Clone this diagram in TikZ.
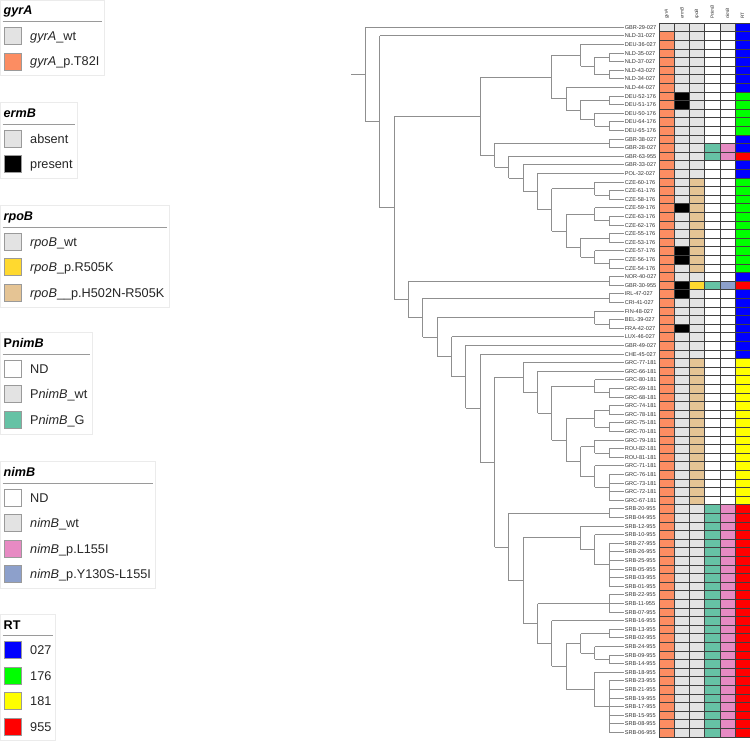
\documentclass[tikz,border=0pt]{standalone}
\usepackage{fontspec}
\setmainfont{Liberation Sans}
\usetikzlibrary{calc}
\definecolor{treegray}{HTML}{8F8F8F}
\definecolor{hG}{HTML}{E3E3E3}
\definecolor{hS}{HTML}{FC8D62}
\definecolor{hK}{HTML}{000000}
\definecolor{hW}{HTML}{FFFFFF}
\definecolor{hT}{HTML}{E5C494}
\definecolor{hY}{HTML}{FFD92F}
\definecolor{hE}{HTML}{66C2A5}
\definecolor{hP}{HTML}{E78AC3}
\definecolor{hV}{HTML}{8DA0CB}
\definecolor{hB}{HTML}{0000FF}
\definecolor{hN}{HTML}{00FF00}
\definecolor{hL}{HTML}{FFFF00}
\definecolor{hR}{HTML}{FF0000}
\definecolor{framegray}{HTML}{EBEBEB}
\definecolor{sepgray}{HTML}{9A9A9A}
\definecolor{swgray}{HTML}{9A9A9A}
\newcommand\clade[5]{%
  \path let \p1=($(#3)!.5!(#4)$) in coordinate (#1) at ({623.5pt-14.33pt*#2},\y1);
  \draw[tree] (#1 |- #3) -- (#1 |- #4);
  \foreach \cc in {#5} {\draw[tree] (#1 |- \cc) -- (\cc);}
}
\newcommand\hrow[7]{%
  \foreach \cc [count=\k from 0] in {#2,#3,#4,#5,#6,#7}
    \fill[\cc] ({659.3+15.12*\k},{23+8.6*(#1-1)}) rectangle ++(15.12,8.6);
}
\newcommand\legframe[5]{% top, width, n, title, name
  \draw[legframe] (0.5,#1) rectangle (#2,{#1+50.2+25.5*(#3-1)});
  \node[legtitle] (#5) at (3.5,{#1+15}) {#4};
  \draw[legsep] (2.7,{#1+21.5}) -- ({#2-2.5},{#1+21.5});
}
\newcommand\legitem[5]{% top, k, colour, text, name
  \draw[swatch, fill=#3] (4.3,{#1+27.5+25.5*#2}) rectangle ++(17.3,17);
  \node[legtext] (#5) at (30,{#1+40.5+25.5*#2}) {#4};
}
\begin{document}
\begin{tikzpicture}[x=1pt,y=-1pt,
  tree/.style={draw=treegray, line width=0.9pt},
  leaflab/.style={anchor=west, inner sep=0pt, font=\fontsize{5.6}{6}\selectfont, text=black!80},
  hdr/.style={anchor=west, rotate=90, inner sep=0pt, font=\fontsize{4.7}{5}\selectfont, text=black!80},
  grid/.style={draw=black!75, line width=0.45pt},
  legframe/.style={draw=framegray, line width=0.6pt},
  legsep/.style={draw=sepgray, line width=0.8pt},
  legtitle/.style={anchor=base west, inner sep=0pt, font=\bfseries\fontsize{12.6}{14}\selectfont},
  legtext/.style={anchor=base west, inner sep=0pt, font=\fontsize{12.7}{14}\selectfont, text=black!85},
  swatch/.style={draw=swgray, line width=0.6pt}]
\fill[white] (0,0) rectangle (750,743);
\useasboundingbox (0,0) rectangle (750,743);

% ---------- leaves ----------
\foreach \nm [count=\i] in {GBR-29-027,NLD-31-027,DEU-36-027,NLD-35-027,NLD-37-027,NLD-43-027,NLD-34-027,NLD-44-027,DEU-52-176,DEU-51-176,DEU-50-176,DEU-64-176,DEU-65-176,GBR-38-027,GBR-28-027,GBR-63-955,GBR-33-027,POL-32-027,CZE-60-176,CZE-61-176,CZE-58-176,CZE-59-176,CZE-63-176,CZE-62-176,CZE-55-176,CZE-53-176,CZE-57-176,CZE-56-176,CZE-54-176,NOR-40-027,GBR-30-955,IRL-47-027,CRI-41-027,FIN-48-027,BEL-39-027,FRA-42-027,LUX-46-027,GBR-49-027,CHE-45-027,GRC-77-181,GRC-66-181,GRC-80-181,GRC-69-181,GRC-68-181,GRC-74-181,GRC-78-181,GRC-75-181,GRC-70-181,GRC-79-181,ROU-82-181,ROU-81-181,GRC-71-181,GRC-76-181,GRC-73-181,GRC-72-181,GRC-67-181,SRB-20-955,SRB-04-955,SRB-12-955,SRB-10-955,SRB-27-955,SRB-26-955,SRB-25-955,SRB-05-955,SRB-03-955,SRB-01-955,SRB-22-955,SRB-11-955,SRB-07-955,SRB-16-955,SRB-13-955,SRB-02-955,SRB-24-955,SRB-09-955,SRB-14-955,SRB-18-955,SRB-23-955,SRB-21-955,SRB-19-955,SRB-17-955,SRB-15-955,SRB-08-955,SRB-06-955}{
  \coordinate (t\i) at (623.5,{27.3+8.6*(\i-1)});
  \node[leaflab] (lab\i) at (624.6,{27.3+8.6*(\i-1)}) {\nm};
}

% ---------- tree ----------
\clade{c45}{1}{t4}{t5}{t4,t5}
\clade{c67}{1}{t6}{t7}{t6,t7}
\clade{c910}{1}{t9}{t10}{t9,t10}
\clade{c1213}{1}{t12}{t13}{t12,t13}
\clade{c1415}{1}{t14}{t15}{t14,t15}
\clade{c2021}{1}{t20}{t21}{t20,t21}
\clade{c2324}{1}{t23}{t24}{t23,t24}
\clade{c2526}{1}{t25}{t26}{t25,t26}
\clade{c2829}{1}{t28}{t29}{t28,t29}
\clade{c3031}{1}{t30}{t31}{t30,t31}
\clade{c3233}{1}{t32}{t33}{t32,t33}
\clade{c3536}{1}{t35}{t36}{t35,t36}
\clade{c4344}{1}{t43}{t44}{t43,t44}
\clade{c4546}{1}{t45}{t46}{t45,t46}
\clade{c4748}{1}{t47}{t48}{t47,t48}
\clade{c5051}{1}{t50}{t51}{t50,t51}
\clade{p5356}{1}{t53}{t56}{t53,t54,t55,t56}
\clade{c5758}{1}{t57}{t58}{t57,t58}
\clade{p6166}{1}{t61}{t66}{t61,t62,t63,t64,t65,t66}
\clade{p6769}{1}{t67}{t69}{t67,t68,t69}
\clade{c7172}{1}{t71}{t72}{t71,t72}
\clade{c7475}{1}{t74}{t75}{t74,t75}
\clade{p7783}{1}{t77}{t83}{t77,t78,t79,t80,t81,t82,t83}
% h2
\clade{nGa}{2}{c45}{c67}{c45,c67}
\clade{nHc}{2}{t11}{c1213}{t11,c1213}
\clade{nM}{2}{t19}{c2021}{t19,c2021}
\clade{nO}{2}{t22}{c2324}{t22,c2324}
\clade{nQ}{2}{t27}{c2829}{t27,c2829}
\clade{nSa}{2}{t34}{c3536}{t34,c3536}
\clade{nXa}{2}{t42}{c4344}{t42,c4344}
\clade{nXe}{2}{c4546}{c4748}{c4546,c4748}
\clade{nXg}{2}{t49}{c5051}{t49,c5051}
\clade{nXh}{2}{t52}{p5356}{t52,p5356}
\clade{nZa}{2}{t60}{p6166}{t60,p6166}
\clade{nZe}{2}{t73}{c7475}{t73,c7475}
\clade{nZf}{2}{t76}{p7783}{t76,p7783}
% h3
\clade{nG}{3}{t3}{nGa}{t3,nGa}
\clade{nHb}{3}{c910}{nHc}{c910,nHc}
\clade{nP}{3}{c2526}{nQ}{c2526,nQ}
\clade{nXf}{3}{nXg}{nXh}{nXg,nXh}
\clade{nZb}{3}{t59}{nZa}{t59,nZa}
\clade{nZd}{3}{c7172}{nZe}{c7172,nZe}
% h4
\clade{nH}{4}{t8}{nHb}{t8,nHb}
\clade{nN}{4}{nO}{nP}{nO,nP}
\clade{nXd}{4}{nXe}{nXf}{nXe,nXf}
\clade{nZc}{4}{nZd}{nZf}{nZd,nZf}
% h5
\clade{nE}{5}{nG}{nH}{nG,nH}
\clade{nL}{5}{nM}{nN}{nM,nN}
\clade{nXc}{5}{nXa}{nXd}{nXa,nXd}
\clade{nZg}{5}{t70}{nZc}{t70,nZc}
% h6
\clade{nK}{6}{t18}{nL}{t18,nL}
\clade{nXb}{6}{t41}{nXc}{t41,nXc}
\clade{nZh}{6}{p6769}{nZg}{p6769,nZg}
% h7
\clade{nJ}{7}{t17}{nK}{t17,nK}
\clade{nX}{7}{t40}{nXb}{t40,nXb}
\clade{nZ}{7}{nZb}{nZh}{nZb,nZh}
% h8
\clade{nI}{8}{t16}{nJ}{t16,nJ}
\clade{nY}{8}{c5758}{nZ}{c5758,nZ}
% h9
\clade{nF}{9}{c1415}{nI}{c1415,nI}
\clade{nW}{9}{nX}{nY}{nX,nY}
% h10 ...
\clade{nC}{10}{nE}{nF}{nE,nF}
\clade{nV}{10}{t39}{nW}{t39,nW}
\clade{nU}{11}{t38}{nV}{t38,nV}
\clade{nT}{12}{t37}{nU}{t37,nU}
\clade{nS}{13}{nSa}{nT}{nSa,nT}
\clade{nR}{14}{c3233}{nS}{c3233,nS}
\clade{nD}{15}{c3031}{nR}{c3031,nR}
\clade{nB}{16}{nC}{nD}{nC,nD}
\clade{nA}{17}{t2}{nB}{t2,nB}
\clade{nRoot}{18}{t1}{nA}{t1,nA}
\coordinate (stub) at ($(nRoot)+(-14.33,0)$);
\draw[tree] (stub) -- (nRoot);

% ---------- heatmap ----------
\hrow{1}{hG}{hG}{hG}{hW}{hG}{hB}
\foreach \r in {2,...,8,14,17,18,30,33,34,35,37,38,39} {\hrow{\r}{hS}{hG}{hG}{hW}{hW}{hB}}
\foreach \r in {9,10} {\hrow{\r}{hS}{hK}{hG}{hW}{hW}{hN}}
\foreach \r in {11,12,13} {\hrow{\r}{hS}{hG}{hG}{hW}{hW}{hN}}
\hrow{15}{hS}{hG}{hG}{hE}{hP}{hB}
\hrow{16}{hS}{hG}{hG}{hE}{hP}{hR}
\foreach \r in {19,20,21,23,24,25,26,29} {\hrow{\r}{hS}{hG}{hT}{hW}{hW}{hN}}
\foreach \r in {22,27,28} {\hrow{\r}{hS}{hK}{hT}{hW}{hW}{hN}}
\hrow{31}{hS}{hK}{hY}{hE}{hV}{hR}
\foreach \r in {32,36} {\hrow{\r}{hS}{hK}{hG}{hW}{hW}{hB}}
\foreach \r in {40,...,56} {\hrow{\r}{hS}{hG}{hT}{hW}{hW}{hL}}
\foreach \r in {57,...,83} {\hrow{\r}{hS}{hG}{hG}{hE}{hP}{hR}}
\foreach \k in {0,...,6} {\draw[grid] ({659.3+15.12*\k},23) -- ({659.3+15.12*\k},736.8);}
\foreach \r in {0,...,83} {\draw[grid] (659.3,{23+8.6*\r}) -- (750,{23+8.6*\r});}
\foreach \lab [count=\k from 0] in {\textit{gyrA},\textit{ermB},\textit{rpoB},P\textit{nimB},\textit{nimB},RT}
  {\node[hdr] (hdr\k) at ({659.3+15.12*\k+7.56},19) {\lab};}

% ---------- legends ----------
\legframe{0}{104.3}{2}{\textit{gyrA}}{lgT1}
\legitem{0}{0}{hG}{\textit{gyrA}\_wt}{lg1a}
\legitem{0}{1}{hS}{\textit{gyrA}\_p.T82I}{lg1b}

\legframe{102.7}{77.3}{2}{\textit{ermB}}{lgT2}
\legitem{102.7}{0}{hG}{absent}{lg2a}
\legitem{102.7}{1}{hK}{present}{lg2b}

\legframe{205.7}{169.3}{3}{\textit{rpoB}}{lgT3}
\legitem{205.7}{0}{hG}{\textit{rpoB}\_wt}{lg3a}
\legitem{205.7}{1}{hY}{\textit{rpoB}\_p.R505K}{lg3b}
\legitem{205.7}{2}{hT}{\textit{rpoB}\_\_p.H502N-R505K}{lg3c}

\legframe{332.7}{92.3}{3}{P\textit{nimB}}{lgT4}
\legitem{332.7}{0}{hW}{ND}{lg4a}
\legitem{332.7}{1}{hG}{P\textit{nimB}\_wt}{lg4b}
\legitem{332.7}{2}{hE}{P\textit{nimB}\_G}{lg4c}

\legframe{461.7}{155.7}{4}{\textit{nimB}}{lgT5}
\legitem{461.7}{0}{hW}{ND}{lg5a}
\legitem{461.7}{1}{hG}{\textit{nimB}\_wt}{lg5b}
\legitem{461.7}{2}{hP}{\textit{nimB}\_p.L155I}{lg5c}
\legitem{461.7}{3}{hV}{\textit{nimB}\_p.Y130S-L155I}{lg5d}

\legframe{614}{55.7}{4}{RT}{lgT6}
\legitem{614}{0}{hB}{027}{lg6a}
\legitem{614}{1}{hN}{176}{lg6b}
\legitem{614}{2}{hL}{181}{lg6c}
\legitem{614}{3}{hR}{955}{lg6d}
\end{tikzpicture}
\end{document}
